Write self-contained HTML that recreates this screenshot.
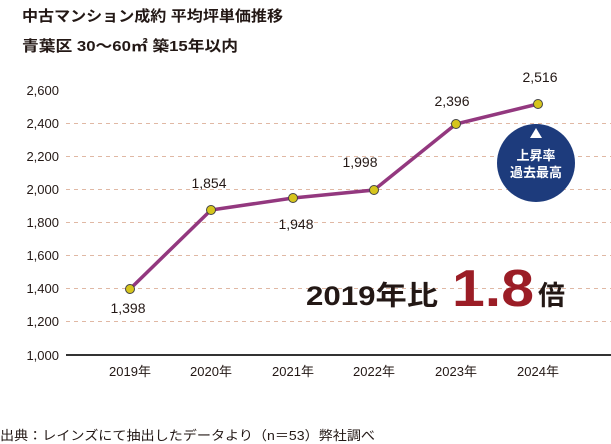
<!DOCTYPE html><html><head><meta charset="utf-8"><style>body{margin:0;background:#fff}svg{display:block}text{font-family:"Liberation Sans","Noto Sans CJK JP",sans-serif;fill:#231815}</style></head><body>
<svg width="611" height="444" viewBox="0 0 611 444">
<text x="22" y="21" font-size="15" font-weight="bold" textLength="261" lengthAdjust="spacingAndGlyphs">中古マンション成約 平均坪単価推移</text>
<text x="22" y="51" font-size="15" font-weight="bold" textLength="216" lengthAdjust="spacingAndGlyphs">青葉区 30～60㎡ 築15年以内</text>
<g stroke="#e0b8a4" stroke-width="1" stroke-dasharray="4,4">
<line x1="66" x2="611" y1="123.5" y2="123.5"/><line x1="66" x2="611" y1="156.5" y2="156.5"/><line x1="66" x2="611" y1="189.5" y2="189.5"/><line x1="66" x2="611" y1="222.5" y2="222.5"/><line x1="66" x2="611" y1="255.5" y2="255.5"/><line x1="66" x2="611" y1="288.5" y2="288.5"/><line x1="66" x2="611" y1="321.5" y2="321.5"/>
</g>
<line x1="66" x2="611" y1="355" y2="355" stroke="#333" stroke-width="2"/>
<g font-size="13" text-anchor="end">
<text x="59" y="95">2,600</text><text x="59" y="128">2,400</text><text x="59" y="161">2,200</text><text x="59" y="194">2,000</text><text x="59" y="227">1,800</text><text x="59" y="260">1,600</text><text x="59" y="293">1,400</text><text x="59" y="326">1,200</text><text x="59" y="360">1,000</text>
</g>
<g font-size="13" text-anchor="middle">
<text x="130" y="376">2019年</text><text x="211" y="376">2020年</text><text x="293" y="376">2021年</text><text x="374" y="376">2022年</text><text x="456" y="376">2023年</text><text x="538" y="376">2024年</text>
</g>
<polyline points="130,289 211,210 293,198 374,190 456,124 538,104" fill="none" stroke="#93387f" stroke-width="3.5"/>
<g fill="#d6c51c" stroke="#444" stroke-width="1">
<circle cx="130" cy="289" r="4.5"/><circle cx="211" cy="210" r="4.5"/><circle cx="293" cy="198" r="4.5"/><circle cx="374" cy="190" r="4.5"/><circle cx="456" cy="124" r="4.5"/><circle cx="538" cy="104" r="4.5"/>
</g>
<g font-size="14" text-anchor="middle">
<text x="128" y="313">1,398</text><text x="209" y="188">1,854</text><text x="296" y="229">1,948</text><text x="360" y="167">1,998</text><text x="452" y="106">2,396</text><text x="540" y="82">2,516</text>
</g>
<circle cx="536" cy="163" r="39" fill="#1d3b7c"/>
<polygon points="536,128 530,138 542,138" fill="#fff"/>
<text x="536" y="160" font-size="13" font-weight="bold" text-anchor="middle" style="fill:#fff">上昇率</text>
<text x="536" y="177" font-size="13" font-weight="bold" text-anchor="middle" style="fill:#fff">過去最高</text>
<text x="306" y="305" font-size="27" font-weight="bold" textLength="132" lengthAdjust="spacingAndGlyphs">2019年比</text>
<text x="452" y="306" font-size="52" font-weight="bold" style="fill:#9b1d26" textLength="82" lengthAdjust="spacingAndGlyphs">1.8</text>
<text x="538" y="305" font-size="27" font-weight="bold">倍</text>
<text x="0" y="440" font-size="13" textLength="375" lengthAdjust="spacingAndGlyphs">出典：レインズにて抽出したデータより（n＝53）弊社調べ</text>
</svg></body></html>
